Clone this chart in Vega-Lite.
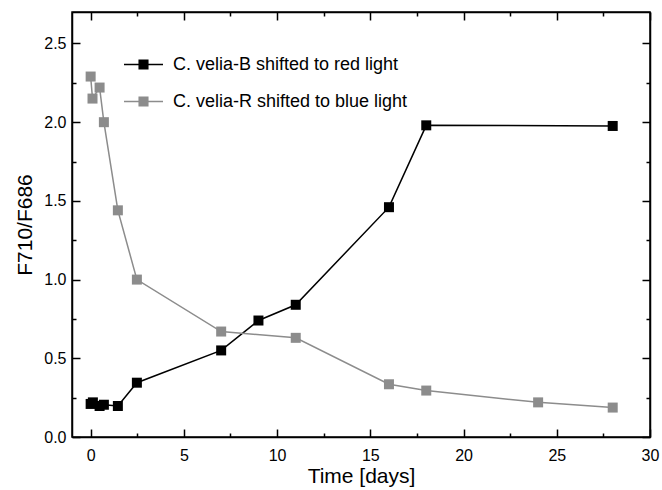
{
  "$schema": "https://vega.github.io/schema/vega-lite/v6.json",
  "width": 578,
  "height": 425,
  "autosize": {"type": "none"},
  "padding": {"left": 72, "top": 12, "right": 12, "bottom": 53},
  "background": "white",
  "config": {
    "font": "Liberation Sans",
    "view": {"stroke": "black", "strokeWidth": 1.5},
    "axis": {
      "domainColor": "black",
      "domainWidth": 1.5,
      "ticks": true,
      "tickColor": "black",
      "tickWidth": 1.5,
      "labelColor": "black",
      "labelFont": "Liberation Sans",
      "labelFontSize": 16,
      "titleFont": "Liberation Sans",
      "titleFontSize": 21,
      "titleFontWeight": "normal",
      "titleColor": "black",
      "grid": false
    }
  },
  "data": {
    "values": [
      {"t": 0, "v": 0.21, "s": "C. velia-B shifted to red light"},
      {"t": 0.12, "v": 0.22, "s": "C. velia-B shifted to red light"},
      {"t": 0.48, "v": 0.197, "s": "C. velia-B shifted to red light"},
      {"t": 0.71, "v": 0.205, "s": "C. velia-B shifted to red light"},
      {"t": 1.46, "v": 0.197, "s": "C. velia-B shifted to red light"},
      {"t": 2.48, "v": 0.345, "s": "C. velia-B shifted to red light"},
      {"t": 7, "v": 0.55, "s": "C. velia-B shifted to red light"},
      {"t": 9, "v": 0.74, "s": "C. velia-B shifted to red light"},
      {"t": 11, "v": 0.84, "s": "C. velia-B shifted to red light"},
      {"t": 16, "v": 1.46, "s": "C. velia-B shifted to red light"},
      {"t": 18, "v": 1.98, "s": "C. velia-B shifted to red light"},
      {"t": 28, "v": 1.976, "s": "C. velia-B shifted to red light"},
      {"t": 0, "v": 2.29, "s": "C. velia-R shifted to blue light"},
      {"t": 0.1, "v": 2.15, "s": "C. velia-R shifted to blue light"},
      {"t": 0.48, "v": 2.22, "s": "C. velia-R shifted to blue light"},
      {"t": 0.71, "v": 2.0, "s": "C. velia-R shifted to blue light"},
      {"t": 1.46, "v": 1.44, "s": "C. velia-R shifted to blue light"},
      {"t": 2.48, "v": 1.0, "s": "C. velia-R shifted to blue light"},
      {"t": 7, "v": 0.67, "s": "C. velia-R shifted to blue light"},
      {"t": 11, "v": 0.63, "s": "C. velia-R shifted to blue light"},
      {"t": 16, "v": 0.335, "s": "C. velia-R shifted to blue light"},
      {"t": 18, "v": 0.295, "s": "C. velia-R shifted to blue light"},
      {"t": 24, "v": 0.22, "s": "C. velia-R shifted to blue light"},
      {"t": 28, "v": 0.187, "s": "C. velia-R shifted to blue light"}
    ]
  },
  "layer": [
    {
      "mark": {"type": "line", "strokeWidth": 1.5},
      "encoding": {
        "x": {
          "field": "t", "type": "quantitative",
          "scale": {"domain": [-1, 30], "nice": false, "zero": false},
          "axis": {
            "orient": "bottom",
            "title": "Time [days]",
            "values": [0, 2.5, 5, 7.5, 10, 12.5, 15, 17.5, 20, 22.5, 25, 27.5, 30],
            "labelExpr": "datum.value % 5 === 0 ? datum.label : ''",
            "tickSize": {"condition": {"test": "datum.value % 5 === 0", "value": -8}, "value": -4},
            "labelPadding": 18,
            "labelFlush": false,
            "titlePadding": 2,
            "zindex": 1
          }
        },
        "y": {
          "field": "v", "type": "quantitative",
          "scale": {"domain": [0, 2.7], "nice": false},
          "axis": {
            "orient": "left",
            "title": "F710/F686",
            "values": [0, 0.25, 0.5, 0.75, 1, 1.25, 1.5, 1.75, 2, 2.25, 2.5],
            "labelExpr": "datum.value % 0.5 === 0 ? format(datum.value, '.1f') : ''",
            "tickSize": {"condition": {"test": "datum.value % 0.5 === 0", "value": -8}, "value": -4},
            "labelPadding": 14,
            "labelFlush": false,
            "titlePadding": 8,
            "zindex": 1
          }
        },
        "color": {
          "field": "s", "type": "nominal",
          "scale": {
            "domain": ["C. velia-B shifted to red light", "C. velia-R shifted to blue light"],
            "range": ["#000000", "#8c8c8c"]
          },
          "legend": {
            "title": null,
            "orient": "none",
            "legendX": 51,
            "legendY": 32,
            "padding": 0,
            "symbolType": "M-1,0H-0.22M0.22,0H1M-0.22,-0.22H0.22V0.22H-0.22Z",
            "symbolSize": 1521,
            "symbolStrokeWidth": 1.5,
            "labelFont": "Liberation Sans",
            "labelFontSize": 18,
            "labelColor": "black",
            "labelLimit": 400,
            "labelOffset": 9,
            "rowPadding": 7,
            "encode": {
              "symbols": {
                "update": {
                  "fill": {"scale": "color", "field": "value"},
                  "stroke": {"scale": "color", "field": "value"},
                  "opacity": {"value": 1}
                }
              }
            }
          }
        }
      }
    },
    {
      "mark": {"type": "point", "shape": "square", "filled": true, "size": 100, "opacity": 1},
      "encoding": {
        "x": {
          "field": "t", "type": "quantitative",
          "axis": {
            "orient": "top",
            "title": null,
            "labels": false,
            "values": [0, 2.5, 5, 7.5, 10, 12.5, 15, 17.5, 20, 22.5, 25, 27.5, 30],
            "tickSize": {"condition": {"test": "datum.value % 5 === 0", "value": -8}, "value": -4},
            "zindex": 1
          }
        },
        "y": {
          "field": "v", "type": "quantitative",
          "axis": {
            "orient": "right",
            "title": null,
            "labels": false,
            "values": [0, 0.25, 0.5, 0.75, 1, 1.25, 1.5, 1.75, 2, 2.25, 2.5],
            "tickSize": {"condition": {"test": "datum.value % 0.5 === 0", "value": -8}, "value": -4},
            "zindex": 1
          }
        },
        "color": {"field": "s", "type": "nominal"}
      }
    }
  ],
  "resolve": {"axis": {"x": "independent", "y": "independent"}}
}
